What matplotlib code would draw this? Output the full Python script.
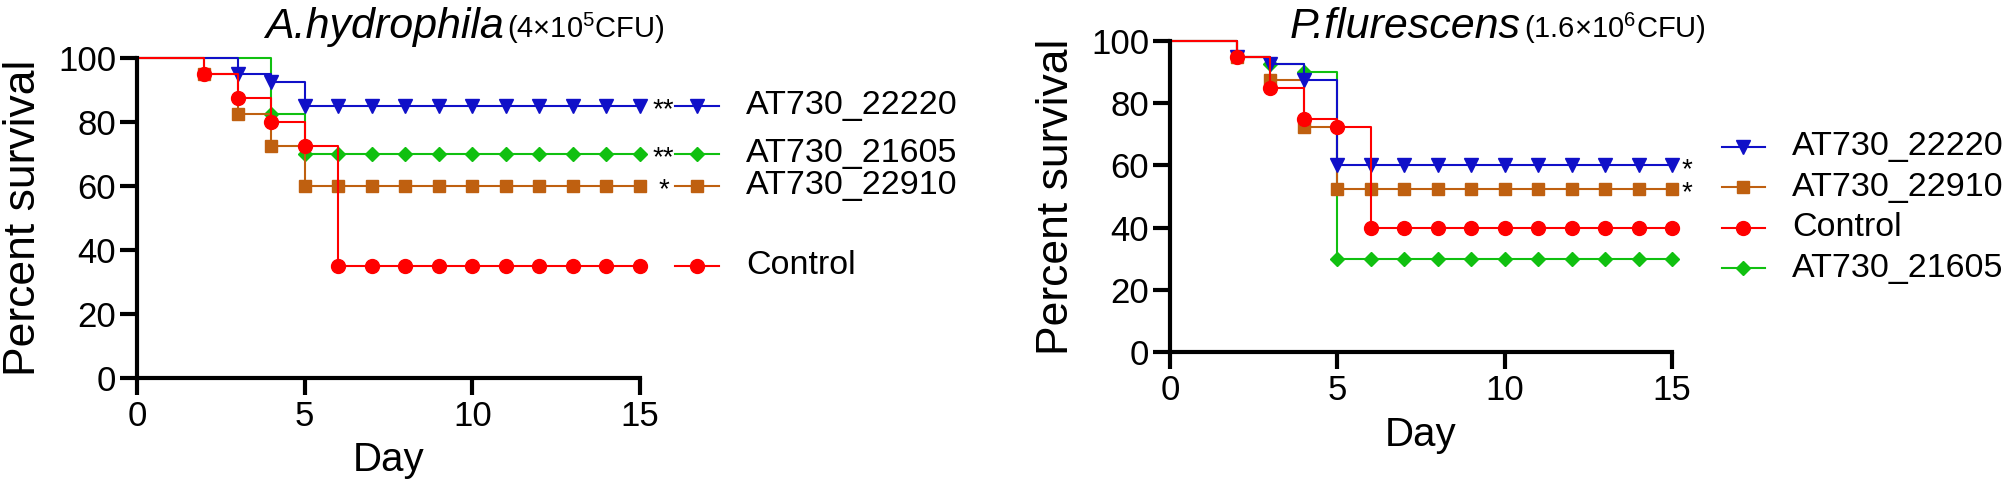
import matplotlib
matplotlib.use("Agg")
import matplotlib.pyplot as plt

FONT = "Liberation Sans"
plt.rcParams["font.family"] = [FONT, "DejaVu Sans"]
plt.rcParams["mathtext.fontset"] = "custom"
plt.rcParams["mathtext.rm"] = FONT
plt.rcParams["mathtext.default"] = "rm"

days = list(range(16))

# A. hydrophila challenge, percent survival per day
hyd_22220 = [100, 100, 100, 95, 92.5, 85, 85, 85, 85, 85, 85, 85, 85, 85, 85, 85]
hyd_21605 = [100, 100, 100, 100, 82.5, 70, 70, 70, 70, 70, 70, 70, 70, 70, 70, 70]
hyd_22910 = [100, 100, 95, 82.5, 72.5, 60, 60, 60, 60, 60, 60, 60, 60, 60, 60, 60]
hyd_control = [100, 100, 95, 87.5, 80, 72.5, 35, 35, 35, 35, 35, 35, 35, 35, 35, 35]
hyd_stars = {"AT730_22220": "**", "AT730_21605": "**", "AT730_22910": "*"}

# P. flurescens challenge
flu_22220 = [100, 100, 95, 92.5, 87.5, 60, 60, 60, 60, 60, 60, 60, 60, 60, 60, 60]
flu_22910 = [100, 100, 95, 87.5, 72.5, 52.5, 52.5, 52.5, 52.5, 52.5, 52.5, 52.5, 52.5, 52.5, 52.5, 52.5]
flu_control = [100, 100, 95, 85, 75, 72.5, 40, 40, 40, 40, 40, 40, 40, 40, 40, 40]
flu_21605 = [100, 100, 95, 92.5, 90, 30, 30, 30, 30, 30, 30, 30, 30, 30, 30, 30]
flu_stars = {"AT730_22220": "*", "AT730_22910": "*"}

style = {
    "AT730_22220": ("#1010C8", "v", 10),
    "AT730_21605": ("#10C010", "D", 7.5),
    "AT730_22910": ("#BF6010", "s", 9),
    "Control": ("#FF0000", "o", 10),
}


def panel(ax, series, stars, legend_y, star_x, leg_x):
    for name, vals in series:
        c, m, ms = style[name]
        ax.step(days, vals, where="post", color=c, lw=1.5, clip_on=False)
        pts = [(d, v) for d, v in zip(days, vals) if v < 100]
        ax.plot([p[0] for p in pts], [p[1] for p in pts], ls="none", marker=m,
                ms=ms, color=c, clip_on=False)
    for (name, vals), ly in zip(series, legend_y):
        c, m, ms = style[name]
        ax.plot([leg_x, leg_x + 0.65, leg_x + 1.3], [ly] * 3, color=c, lw=1.5,
                marker=m, ms=ms, markevery=[1], clip_on=False)
        ax.text(leg_x + 2.1, ly, name, fontsize=24.5, va="center", ha="left",
                clip_on=False)
        if name in stars:
            ax.text(star_x, vals[-1] - 1.5, stars[name], fontsize=20, va="center",
                    ha="center", clip_on=False)
    ax.set_xlim(0, 15)
    ax.set_ylim(0, 100)
    ax.set_xticks([0, 5, 10, 15])
    ax.set_yticks(range(0, 101, 20))
    for s in ["top", "right"]:
        ax.spines[s].set_visible(False)
    for s in ["left", "bottom"]:
        ax.spines[s].set_linewidth(3)
    ax.tick_params(direction="out", length=12, width=3, labelsize=25)
    ax.tick_params(axis="x", pad=4)
    ax.tick_params(axis="y", pad=3)
    ax.set_xlabel("Day", fontsize=29, labelpad=6)
    ax.set_ylabel("Percent survival", fontsize=32, labelpad=10)


fig = plt.figure(figsize=(20.08, 4.84), dpi=100)
ax1 = fig.add_axes([0.0682, 0.2194, 0.2505, 0.6616])
ax2 = fig.add_axes([0.5827, 0.2727, 0.25, 0.6426])

hyd = [("AT730_21605", hyd_21605), ("AT730_22910", hyd_22910),
       ("AT730_22220", hyd_22220), ("Control", hyd_control)]
panel(ax1, hyd, hyd_stars, [v[-1] for _, v in hyd], 15.7, 16.06)

flu = [("AT730_21605", flu_21605), ("AT730_22910", flu_22910),
       ("AT730_22220", flu_22220), ("Control", flu_control)]
panel(ax2, flu, flu_stars, [27, 53, 66, 40], 15.45, 16.48)

# titles: italic species name followed by the dose
fig.canvas.draw()
r = fig.canvas.get_renderer()
for x0, sp, dose in [(265, "A.hydrophila", r"(4×10$^{5}$CFU)"),
                     (1290, "P.flurescens", r"(1.6×10$^{6}$CFU)")]:
    t = fig.text(x0 / 2008, 1 - 38 / 484, sp, fontsize=31, style="italic",
                 va="baseline", ha="left")
    bb = t.get_window_extent(r)
    fig.text((bb.x1 + 3) / 2008, 1 - 38 / 484, dose, fontsize=21,
             va="baseline", ha="left")

fig.savefig("out.png", dpi=100)
